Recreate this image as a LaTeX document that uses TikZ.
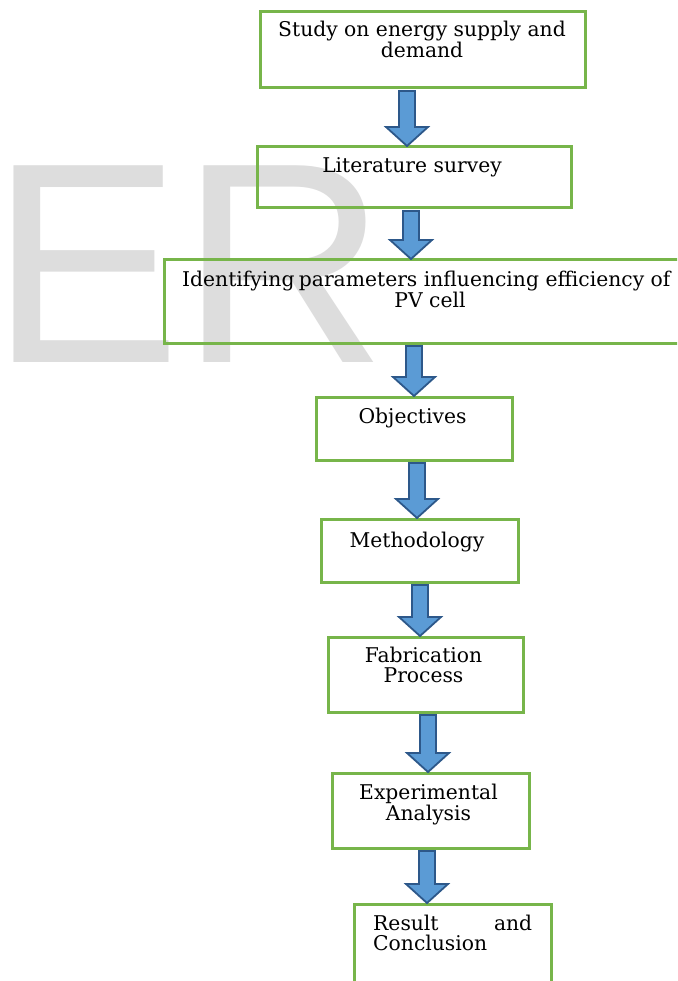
\documentclass[tikz,border=0pt]{standalone}
\usepackage{fontspec}
\setmainfont{DejaVu Serif}
\newfontfamily\wmfont{Liberation Sans}
\usetikzlibrary{calc}
\definecolor{boxgreen}{RGB}{119,181,74}
\definecolor{arrowfill}{RGB}{91,155,213}
\definecolor{arrowline}{RGB}{45,88,138}
\definecolor{wmgray}{RGB}{221,221,221}
\tikzset{
  flowbox/.style={draw=boxgreen, line width=3pt, inner sep=0pt, outer sep=0pt},
  boxtext/.style={font=\fontsize{20.3}{22}\selectfont, text=black, inner sep=0pt, anchor=base},
  bigarrow/.style={fill=arrowfill, draw=arrowline, line width=1.8pt, line join=miter},
}
\newcommand\blockarrow[4]{%
  \coordinate (#1) at (#2,0);
  \filldraw[bigarrow]
    ($(#3.south -| #1)+(-8,3)$) -- ($(#3.south -| #1)+(8,3)$) --
    ($(#4.north -| #1)+(8,-20)$) -- ($(#4.north -| #1)+(21,-20)$) --
    ($(#4.north -| #1)+(0,-1)$) -- ($(#4.north -| #1)+(-21,-20)$) --
    ($(#4.north -| #1)+(-8,-20)$) -- cycle;
}
\begin{document}
\begin{tikzpicture}[x=1pt,y=-1pt]
\useasboundingbox (0,0) rectangle (677,981);
\clip (0,0) rectangle (677,981);
\fill[white] (0,0) rectangle (677,981);
% watermark
\node[font=\wmfont\fontsize{286}{290}\selectfont, text=wmgray, anchor=base west, inner sep=0pt] (wm) at (-10,362) {ER};
% boxes
\node[flowbox, minimum width=325pt, minimum height=76pt] (b1) at (422.5,50) {};
\node[flowbox, minimum width=314pt, minimum height=61pt] (b2) at (414,177.5) {};
\node[flowbox, minimum width=532pt, minimum height=83pt] (b3) at (430,301.5) {};
\node[flowbox, minimum width=196pt, minimum height=63pt] (b4) at (414,428.5) {};
\node[flowbox, minimum width=197pt, minimum height=63pt] (b5) at (419.5,550.5) {};
\node[flowbox, minimum width=195pt, minimum height=75pt] (b6) at (425.5,674.5) {};
\node[flowbox, minimum width=197pt, minimum height=75pt] (b7) at (430.5,810.5) {};
\node[flowbox, minimum width=197pt, minimum height=86pt] (b8) at (452.5,947) {};
% texts
\node[boxtext] (t1a) at (422,37) {Study on energy supply and};
\node[boxtext] (t1b) at (422,58) {demand};
\node[boxtext] (t2) at (412,173) {Literature survey};
\node[boxtext, anchor=base west] (t3a) at (182,287) {Identifying\kern-2pt\ parameters influencing efficiency of};
\node[boxtext] (t3b) at (430,307) {PV cell};
\node[boxtext] (t4) at (412.5,423) {Objectives};
\node[boxtext] (t5) at (417,547) {Methodology};
\node[boxtext] (t6a) at (423.5,662) {Fabrication};
\node[boxtext] (t6b) at (423.5,682) {Process};
\node[boxtext] (t7a) at (428.5,799) {Experimental};
\node[boxtext] (t7b) at (428.5,820) {Analysis};
\node[boxtext, anchor=base west] (t8a) at (373,930) {\hbox to 159pt{Result\hfill and}};
\node[boxtext, anchor=base west] (t8b) at (373,950) {Conclusion};
% arrows
\blockarrow{a1}{407}{b1}{b2}
\blockarrow{a2}{411}{b2}{b3}
\blockarrow{a3}{414}{b3}{b4}
\blockarrow{a4}{417}{b4}{b5}
\blockarrow{a5}{420}{b5}{b6}
\blockarrow{a6}{428}{b6}{b7}
\blockarrow{a7}{427}{b7}{b8}
\end{tikzpicture}
\end{document}
